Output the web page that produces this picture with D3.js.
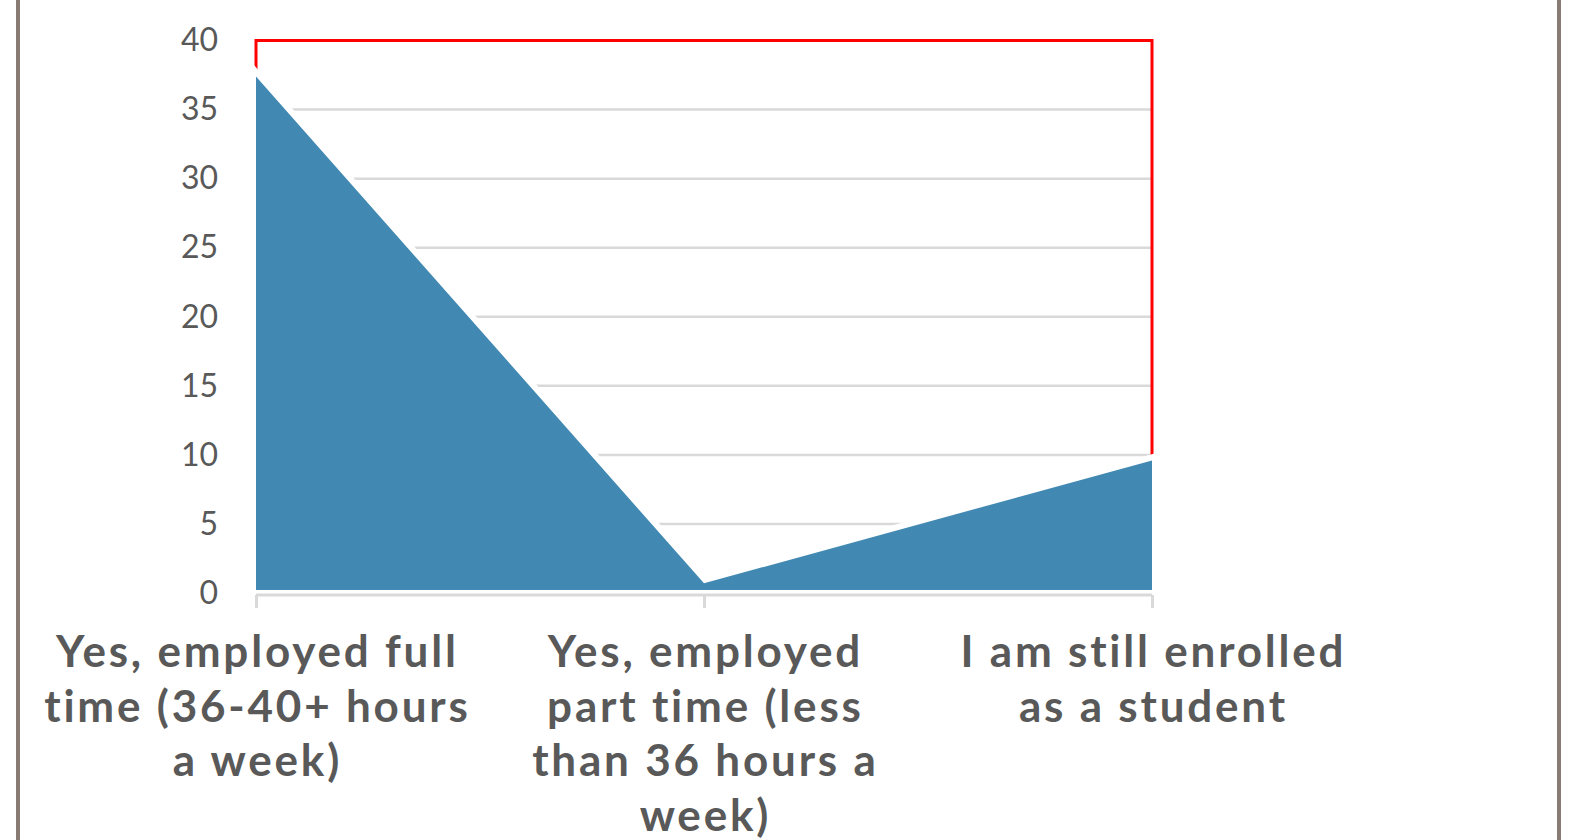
<!DOCTYPE html>
<html>
<head>
<meta charset="utf-8">
<script src="https://cdn.jsdelivr.net/npm/d3@7"></script>
<style>
  html, body { margin: 0; padding: 0; background: #fff; }
  svg { display: block; }
</style>
</head>
<body>
<svg id="id_svg"></svg>
<script>
width = 1577
height = 840

// values
categories = [
    "Yes, employed full time (36-40+ hours a week)",
    "Yes, employed part time (less than 36 hours a week)",
    "I am still enrolled as a student"
]
// how the category labels wrap in the original
categoryLines = [
    ["Yes, employed full", "time (36-40+ hours", "a week)"],
    ["Yes, employed", "part time (less", "than 36 hours a", "week)"],
    ["I am still enrolled", "as a student"]
]
values = [37.4, 0.7, 9.6]
yTicks = [0, 5, 10, 15, 20, 25, 30, 35, 40]

chart = function() {
    const svg = d3.select("#id_svg")
        .attr("width", width)
        .attr("height", height)
        .attr("viewBox", [0, 0, width, height]);

    const data = categories.map((c, i) => ({ c, v: values[i] }));

    const x = d3.scalePoint().domain(categories).range([256, 1152]);
    const y = d3.scaleLinear().domain([0, 40]).range([593, 40.5]);

    // frame lines left and right
    svg.selectAll("line.frame")
        .data([18, 1559])
        .join("line")
        .attr("class", "frame")
        .attr("x1", d => d).attr("x2", d => d)
        .attr("y1", 0).attr("y2", height)
        .attr("stroke", "#877b74")
        .attr("stroke-width", 4);

    // gridlines
    svg.append("g")
        .selectAll("line")
        .data(yTicks.filter(d => d > 0 && d < 40))
        .join("line")
        .attr("x1", x.range()[0]).attr("x2", x.range()[1])
        .attr("y1", d => y(d)).attr("y2", d => y(d))
        .attr("stroke", "#d9d9d9")
        .attr("stroke-width", 2.5);

    // red bracket over the plot
    const first = data[0], last = data[data.length - 1];
    svg.append("path")
        .attr("d", d3.line()([
            [x(first.c), y(first.v)],
            [x(first.c), y(40)],
            [x(last.c), y(40)],
            [x(last.c), y(last.v)]
        ]))
        .attr("fill", "none")
        .attr("stroke", "#ff0000")
        .attr("stroke-width", 3);

    const area = d3.area()
        .x(d => x(d.c))
        .y0(y(0) - 3)
        .y1(d => y(d.v));

    // white halo around the area
    svg.append("path")
        .datum(data)
        .attr("d", area)
        .attr("fill", "#fff")
        .attr("stroke", "#fff")
        .attr("stroke-width", 12)
        .attr("stroke-linejoin", "miter")
        .attr("stroke-miterlimit", 10);

    svg.append("path")
        .datum(data)
        .attr("d", area)
        .attr("fill", "#4189b2");

    // category axis
    const xAxis = svg.append("g")
        .attr("transform", `translate(0,${y(0) + 2})`)
        .call(d3.axisBottom(x).tickSize(13).tickFormat(""));
    xAxis.select(".domain")
        .attr("d", `M${x.range()[0]},0H${x.range()[1]}`)
        .attr("stroke", "#d9d9d9")
        .attr("stroke-width", 3);
    xAxis.selectAll(".tick line")
        .attr("stroke", "#d9d9d9")
        .attr("stroke-width", 3);

    // category labels
    const labels = svg.append("g")
        .selectAll("text")
        .data(categories)
        .join("text")
        .attr("x", d => x(d) + 1.4)
        .attr("y", 667)
        .attr("text-anchor", "middle")
        .attr("font-family", "Lato, 'Open Sans', sans-serif")
        .attr("font-weight", "bold")
        .attr("font-size", 44)
        .attr("letter-spacing", 2.8)
        .attr("fill", "#595959");
    labels.selectAll("tspan")
        .data((d, i) => categoryLines[i])
        .join("tspan")
        .attr("x", function() { return this.parentNode.getAttribute("x"); })
        .attr("dy", (d, i) => i === 0 ? 0 : 54.5)
        .text(d => d);

    // value axis labels
    const yAxis = svg.append("g")
        .attr("transform", "translate(218,0)")
        .call(d3.axisLeft(y).tickValues(yTicks).tickSize(0).tickPadding(0));
    yAxis.select(".domain").remove();
    yAxis.selectAll("text")
        .attr("font-family", "Lato, 'Open Sans', sans-serif")
        .attr("font-size", 32)
        .attr("fill", "#595959");

    return svg.node();
}
chart()
</script>
</body>
</html>
